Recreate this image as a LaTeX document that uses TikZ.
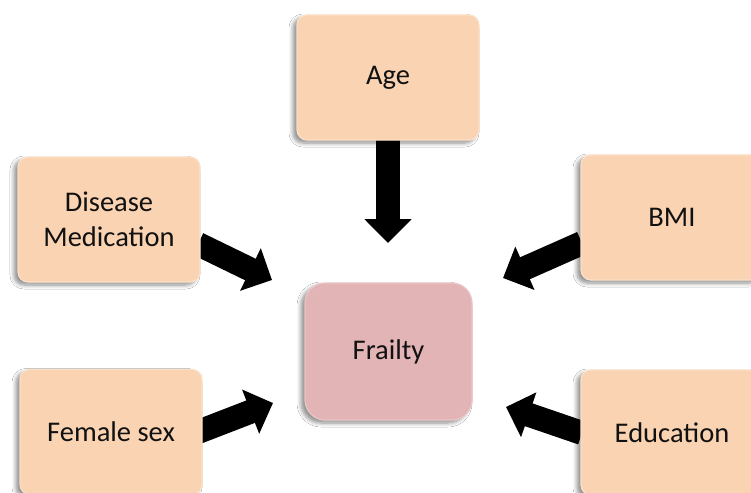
\documentclass[tikz,border=0pt]{standalone}
\usepackage{fontspec}
\setmainfont{Carlito}
\usetikzlibrary{arrows.meta,shadows.blur}
\definecolor{peach}{HTML}{F9D3B2}
\definecolor{peachrim}{HTML}{FBE0C8}
\definecolor{rose}{HTML}{E2B4B5}
\definecolor{roserim}{HTML}{EBC6C7}
\definecolor{txt}{HTML}{111111}
\tikzset{
  factor/.style={draw=peachrim, line width=1.2pt, fill=peach, rounded corners=10pt,
    minimum width=182pt, minimum height=125pt, inner sep=0pt, align=center,
    font=\fontsize{28.5pt}{35pt}\selectfont, text=txt,
    blur shadow={shadow xshift=-4pt, shadow yshift=-3pt, shadow blur steps=6, shadow opacity=45, shadow blur radius=4pt}},
  outcome/.style={factor, draw=roserim, fill=rose, rounded corners=20pt,
    minimum width=167pt, minimum height=137pt},
  blockarrow/.style={draw=black, line width=24pt,
    -{Triangle[width=46pt,length=24pt]}}
}
\begin{document}
\begin{tikzpicture}[x=1pt,y=-1pt]
\useasboundingbox (0,0) rectangle (751,492);
\clip (0,0) rectangle (751,492);
\fill[white] (0,0) rectangle (751,492);
% anchor coordinates of the block arrows
\coordinate (ageS) at (388,140);
\coordinate (ageT) at (388,243);
\coordinate (disS) at (198,244);
\coordinate (disT) at (272,280);
\coordinate (bmiS) at (582,243);
\coordinate (bmiT) at (503,278);
\coordinate (femS) at (198,432);
\coordinate (femT) at (273,403);
\coordinate (eduS) at (582,433);
\coordinate (eduT) at (506,407);
% arrows (under the boxes)
\draw[blockarrow] (ageS) -- (ageT);
\draw[blockarrow] (disS) -- (disT);
\draw[blockarrow] (bmiS) -- (bmiT);
\draw[blockarrow] (femS) -- (femT);
\draw[blockarrow] (eduS) -- (eduT);
% boxes
\node[factor] (age) at (388,77.5) {Age};
\node[factor] (disease) at (109,219.5) {Disease\\Medication};
\node[factor] (bmi) at (672,217.5) {BMI};
\node[factor] (female) at (111,432) {Female sex};
\node[factor] (education) at (672,432.5) {Education};
\node[outcome] (frailty) at (388.5,351.5) {Frailty};
\end{tikzpicture}
\end{document}
